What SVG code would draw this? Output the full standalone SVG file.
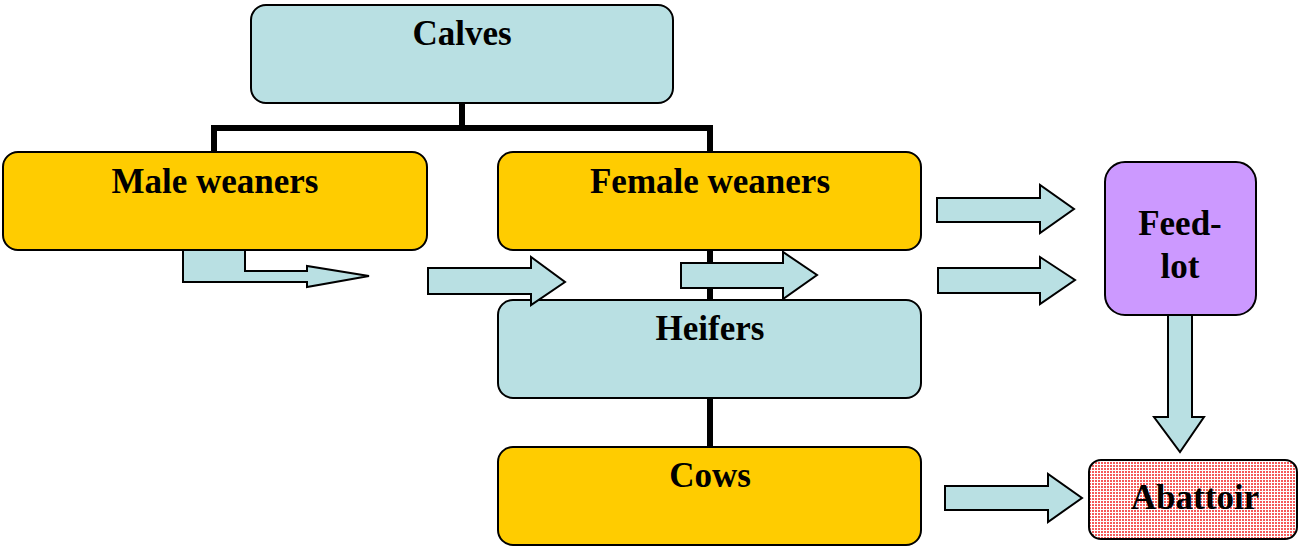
<svg xmlns="http://www.w3.org/2000/svg" width="1301" height="547" viewBox="0 0 1301 547">
<defs>
<style>
.box{stroke:#000;stroke-width:2}
.cyan{fill:#b9e0e3}
.gold{fill:#ffcc00}
.purple{fill:#cc99ff}
.lbl{font-family:"Liberation Serif","Times New Roman",serif;font-weight:bold;font-size:35px;fill:#000;text-anchor:middle}
.tree{fill:none;stroke:#000;stroke-width:6}
.arr{fill:#b9e0e3;stroke:#000;stroke-width:2;stroke-linejoin:miter}
</style>
<pattern id="dots" width="3" height="3" patternUnits="userSpaceOnUse">
<rect width="3" height="3" fill="#ffffff"/>
<rect width="2" height="2" fill="#f55a5a"/>
</pattern>
</defs>
<rect width="1301" height="547" fill="#ffffff"/>
<g id="calves"><rect class="box cyan" x="251" y="5" width="422" height="98" rx="15"/><text class="lbl" x="462" y="45">Calves</text></g>
<g id="male-weaners"><rect class="box gold" x="3" y="152" width="424" height="98" rx="15"/><text class="lbl" x="215" y="193">Male weaners</text></g>
<g id="female-weaners"><rect class="box gold" x="498" y="152" width="423" height="98" rx="15"/><text class="lbl" x="710" y="193">Female weaners</text></g>
<g id="heifers"><rect class="box cyan" x="498" y="300" width="423" height="98" rx="15"/><text class="lbl" x="710" y="340">Heifers</text></g>
<g id="cows"><rect class="box gold" x="498" y="447" width="423" height="98" rx="15"/><text class="lbl" x="710" y="487">Cows</text></g>
<g id="feedlot"><rect class="box purple" x="1105" y="162" width="151" height="153" rx="20"/><text class="lbl" x="1180" y="235">Feed-</text><text class="lbl" x="1180" y="278">lot</text></g>
<g id="abattoir"><rect class="box" fill="url(#dots)" x="1089" y="460" width="208" height="79" rx="12"/><text class="lbl" x="1195" y="509">Abattoir</text></g>
<g id="connectors">
<path class="tree" d="M462,103 V128 M214,152 V128 H710 V152"/>
<path class="tree" d="M710,250 V300 M710,398 V447"/>
<path class="arr" d="M183,250 H245 V271 H307 V266 L369,276 L307,287 V282 H183 Z"/>
<path class="arr" d="M428,268 H531 V257 L565,282 L531,305 V294 H428 Z"/>
<path class="arr" d="M681,263 H783 V252 L817,275 L783,299 V288 H681 Z"/>
<path class="arr" d="M937,198 H1040 V185 L1074,209 L1040,233 V222 H937 Z"/>
<path class="arr" d="M938,268 H1040 V257 L1075,280 L1040,304 V293 H938 Z"/>
<path class="arr" d="M1168,315 H1192 V417 H1204 L1180,452 L1154,417 H1168 Z"/>
<path class="arr" d="M945,486 H1048 V474 L1082,498 L1048,522 V510 H945 Z"/>
</g>
</svg>
